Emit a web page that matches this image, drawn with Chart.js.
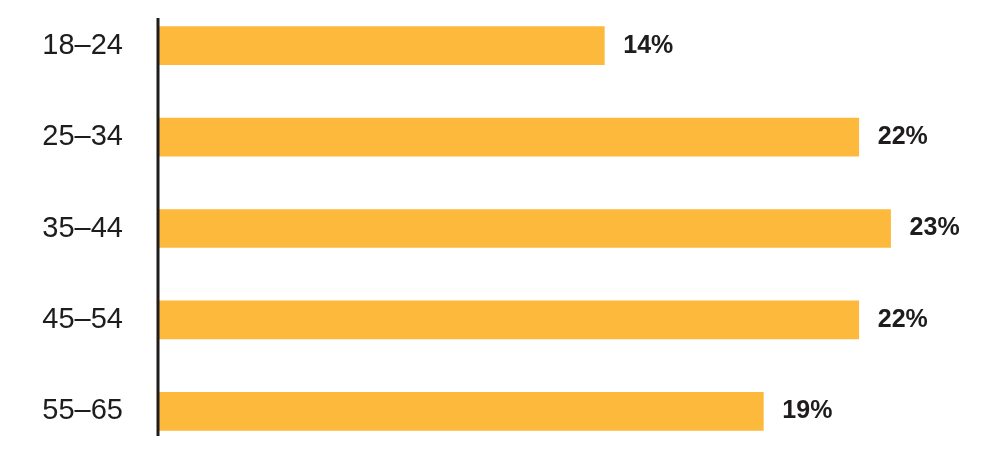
<!DOCTYPE html>
<html>
<head>
<meta charset="utf-8">
<script src="https://cdn.jsdelivr.net/npm/chart.js@4/dist/chart.umd.min.js"></script>
<style>
  html, body { margin: 0; padding: 0; background: #ffffff; }
  #wrap { width: 1008px; height: 457px; position: relative; }
</style>
</head>
<body>
<div id="wrap"><canvas id="chart"></canvas></div>
<script>
// age groups and share of respondents (%)
const ageGroups = ["18\u201324", "25\u201334", "35\u201344", "45\u201354", "55\u201365"];
const shares = [14, 22, 23, 22, 19];

const barColor = "#FDB93C";
const inkColor = "#1E1C1D";

// vertical axis line next to the labels
const axisLine = {
    id: "axisLine",
    afterDatasetsDraw(chart){
        const ctx = chart.ctx;
        const area = chart.chartArea;
        ctx.save();
        ctx.strokeStyle = inkColor;
        ctx.lineWidth = 3;
        ctx.beginPath();
        ctx.moveTo(area.left - 1, area.top + 18);
        ctx.lineTo(area.left - 1, area.bottom - 21);
        ctx.stroke();
        ctx.restore();
    }
};

// percentage text at the end of each bar
const valueLabels = {
    id: "valueLabels",
    afterDatasetsDraw(chart){
        const ctx = chart.ctx;
        const meta = chart.getDatasetMeta(0);
        ctx.save();
        ctx.font = "bold 25px 'Liberation Sans', Arial, sans-serif";
        ctx.fillStyle = inkColor;
        ctx.textAlign = "left";
        ctx.textBaseline = "middle";
        meta.data.forEach(function(bar, i){
            ctx.fillText(shares[i] + "%", bar.x + 19, bar.y);
        });
        ctx.restore();
    }
};

new Chart(document.getElementById("chart"), {
    type: "bar",
    data: {
        labels: ageGroups,
        datasets: [{
            data: shares,
            backgroundColor: barColor,
            borderWidth: 0,
            barThickness: 38
        }]
    },
    options: {
        indexAxis: "y",
        responsive: true,
        maintainAspectRatio: false,
        animation: false,
        layout: { padding: { left: 0, right: 22, top: 0, bottom: 0 } },
        plugins: {
            legend: { display: false },
            tooltip: { enabled: false }
        },
        scales: {
            x: {
                min: 0,
                max: 26,
                display: false
            },
            y: {
                grid: { display: false, drawTicks: false },
                border: { display: false },
                afterFit(scale){
                    scale.width = 159;
                    // labels sit inside the bands, no extra room above/below
                    scale.paddingTop = 0;
                    scale.paddingBottom = 0;
                },
                ticks: {
                    crossAlign: "center",
                    padding: 36,
                    color: inkColor,
                    font: { family: "'Liberation Sans', Arial, sans-serif", size: 29 }
                }
            }
        }
    },
    plugins: [axisLine, valueLabels]
});
</script>
</body>
</html>
